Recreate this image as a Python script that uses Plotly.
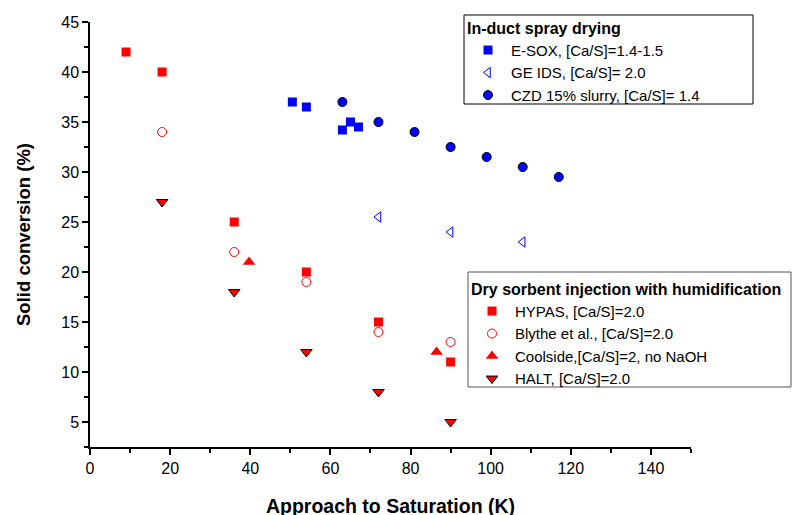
import plotly.graph_objects as go

# In-duct spray drying
esox_x = [50.5, 54, 63, 65, 67]
esox_y = [37, 36.5, 34.2, 35, 34.5]
geids_x = [72, 90, 108]
geids_y = [25.5, 24, 23]
czd_x = [63, 72, 81, 90, 99, 108, 117]
czd_y = [37, 35, 34, 32.5, 31.5, 30.5, 29.5]

# Dry sorbent injection with humidification
hypas_x = [9, 18, 36, 54, 72, 90]
hypas_y = [42, 40, 25, 20, 15, 11]
blythe_x = [18, 36, 54, 72, 90]
blythe_y = [34, 22, 19, 14, 13]
coolside_x = [39.7, 86.5]
coolside_y = [21, 12]
halt_x = [18, 36, 54, 72, 90]
halt_y = [27, 18, 12, 8, 5]

FONT = "Liberation Sans, Arial, sans-serif"
RED = "#FF0000"
BLUE = "#0000FF"

W, H = 810, 515
ML, MR, MT, MB = 82, 127, 14, 76
PW, PH = W - ML - MR, H - MT - MB


def px(fx):
    return (fx - ML) / PW


def py(fy):
    return 1 - (fy - MT) / PH


fig = go.Figure()

fig.add_trace(go.Scatter(x=esox_x, y=esox_y, mode="markers", name="E-SOX, [Ca/S]=1.4-1.5",
                         marker=dict(symbol="square", size=9, color=BLUE, line=dict(width=0)),
                         legend="legend"))
fig.add_trace(go.Scatter(x=geids_x, y=geids_y, mode="markers", name="GE IDS, [Ca/S]= 2.0",
                         marker=dict(symbol="triangle-left-open", size=9, color=BLUE, line=dict(width=1)),
                         legend="legend"))
fig.add_trace(go.Scatter(x=czd_x, y=czd_y, mode="markers", name="CZD 15% slurry, [Ca/S]= 1.4",
                         marker=dict(symbol="circle", size=9, color=BLUE, line=dict(width=1, color="black")),
                         legend="legend"))

fig.add_trace(go.Scatter(x=hypas_x, y=hypas_y, mode="markers", name="HYPAS, [Ca/S]=2.0",
                         marker=dict(symbol="square", size=9, color=RED, line=dict(width=0)),
                         legend="legend2"))
fig.add_trace(go.Scatter(x=blythe_x, y=blythe_y, mode="markers", name="Blythe et al., [Ca/S]=2.0",
                         marker=dict(symbol="circle-open", size=9, color=RED, line=dict(width=1)),
                         legend="legend2"))
fig.add_trace(go.Scatter(x=coolside_x, y=coolside_y, mode="markers", name="Coolside,[Ca/S]=2, no NaOH",
                         marker=dict(symbol="triangle-up", size=11, color=RED, line=dict(width=0)),
                         legend="legend2"))
fig.add_trace(go.Scatter(x=halt_x, y=halt_y, mode="markers", name="HALT, [Ca/S]=2.0",
                         marker=dict(symbol="triangle-down", size=10, color=RED, line=dict(width=1, color="black")),
                         legend="legend2"))

axis_common = dict(
    showline=True, linecolor="black", linewidth=1.5, mirror=False,
    ticks="outside", ticklen=6, tickwidth=1.5, tickcolor="black",
    showgrid=False, zeroline=False,
    tickfont=dict(family=FONT, size=16, color="black"),
)

legend_common = dict(
    font=dict(family=FONT, size=15, color="black"),
    xref="container", yref="container",
    xanchor="left", yanchor="top",
    borderwidth=0, bgcolor="rgba(0,0,0,0)",
    tracegroupgap=0, itemsizing="trace", itemwidth=36,
)

fig.update_layout(
    width=W, height=H,
    margin=dict(l=ML, r=MR, t=MT, b=MB, autoexpand=False),
    paper_bgcolor="white", plot_bgcolor="white",
    font=dict(family=FONT, color="black"),
    xaxis=dict(range=[0, 150], dtick=20, tick0=0,
               minor=dict(ticks="outside", ticklen=4, dtick=10, tickcolor="black", tickwidth=1.5),
               title=dict(text="<b>Approach to Saturation (K)</b>", font=dict(family=FONT, size=19.5), standoff=23),
               automargin=False, **axis_common),
    yaxis=dict(range=[2.5, 45], dtick=5, tick0=0,
               minor=dict(ticks="outside", ticklen=4, dtick=2.5, tickcolor="black", tickwidth=1.5),
               title=dict(text="<b>Solid conversion (%)</b>", font=dict(family=FONT, size=18.5), standoff=26),
               automargin=False, **axis_common),
    legend=dict(
        title=dict(text="<b>In-duct spray drying</b>", font=dict(family=FONT, size=16)),
        x=457 / W, y=1 - 5 / H, **legend_common,
    ),
    legend2=dict(
        title=dict(text="<b>Dry sorbent injection with humidification</b>", font=dict(family=FONT, size=16)),
        x=461 / W, y=1 - 266 / H, **legend_common,
    ),
    shapes=[
        dict(type="rect", xref="paper", yref="paper",
             x0=px(456), x1=px(745), y0=py(96), y1=py(7),
             line=dict(color="black", width=1), fillcolor="white", layer="above"),
        dict(type="rect", xref="paper", yref="paper",
             x0=px(460), x1=px(783), y0=py(379), y1=py(264),
             line=dict(color="#555555", width=1), fillcolor="white", layer="above"),
    ],
)

fig.write_html("out.html")
